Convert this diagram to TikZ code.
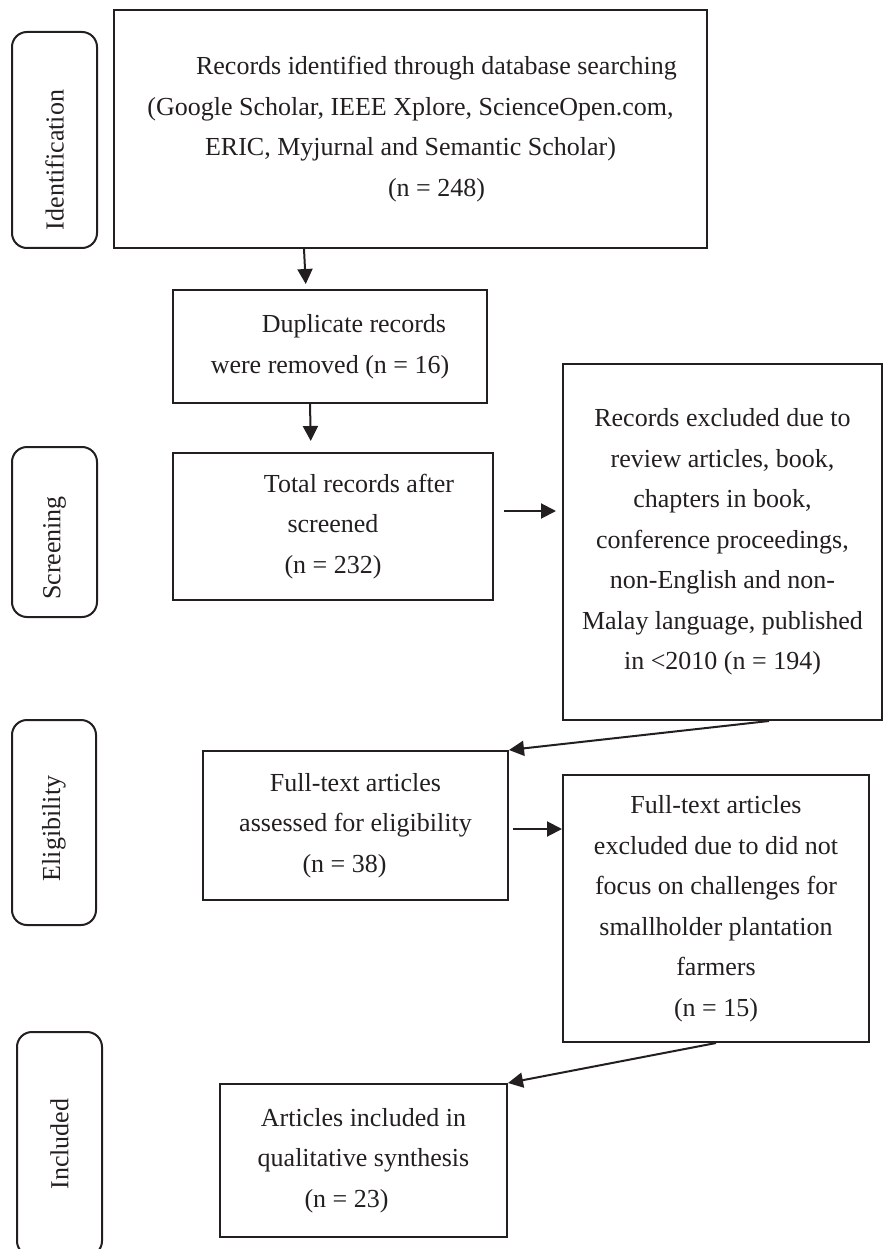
\documentclass[tikz,border=0pt]{standalone}
\usepackage{fontspec}
\setmainfont{Liberation Serif}
\usetikzlibrary{arrows.meta,calc}
\definecolor{ink}{HTML}{231F20}
\begin{document}
\begin{tikzpicture}[x=1pt,y=-1pt,
  box/.style={draw=ink, line width=2pt, inner sep=0pt, align=center, text=ink,
    font=\fontsize{26}{40.5}\selectfont},
  side/.style={draw=ink, line width=2pt, rounded corners=15pt, inner sep=0pt, text=ink,
    font=\fontsize{26}{30}\selectfont},
  arr/.style={draw=ink, line width=2pt, -{Triangle[length=15pt,width=15pt]}},
]
\useasboundingbox (0,0) rectangle (884,1249);
\clip (0,0) rectangle (884,1249);

% side labels
\node[side, minimum width=85pt, minimum height=216pt] (s1) at (54.5,140)
  {\rotatebox{90}{Identification\hspace*{40pt}}};
\node[side, minimum width=85pt, minimum height=170pt] (s2) at (54.5,532)
  {\rotatebox{90}{Screening\hspace*{32pt}}};
\node[side, minimum width=84pt, minimum height=205pt] (s3) at (54,822.5)
  {\rotatebox{90}{Eligibility\hspace*{12pt}}};
\node[side, minimum width=85pt, minimum height=224pt] (s4) at (59.5,1144)
  {\rotatebox{90}{Included}};

% main boxes
\node[box, minimum width=593pt, minimum height=238pt] (b1) at (410.5,129)
  {\hspace*{52pt}Records identified through database searching\\
   (Google Scholar, IEEE Xplore, ScienceOpen.com,\\
   ERIC, Myjurnal and Semantic Scholar)\\
   \hspace*{52pt}(n = 248)};
\node[box, minimum width=314pt, minimum height=113pt] (b2) at (330,346.5)
  {\hspace*{48pt}Duplicate records\\were removed (n = 16)};
\node[box, minimum width=320pt, minimum height=147pt] (b3) at (333,526.5)
  {\hspace*{52pt}Total records after\\screened\\(n = 232)};
\node[box, minimum width=319pt, minimum height=356pt] (b4) at (722.5,542)
  {Records excluded due to\\review articles, book,\\chapters in book,\\conference proceedings,\\non-English and non-\\Malay language, published\\in <2010 (n = 194)};
\node[box, minimum width=305pt, minimum height=149pt] (b5) at (355.5,825.5)
  {Full-text articles\\assessed for eligibility\\(n = 38)\hspace*{22pt}};
\node[box, minimum width=306pt, minimum height=267pt] (b6) at (716,908.5)
  {Full-text articles\\excluded due to did not\\focus on challenges for\\smallholder plantation\\farmers\\(n = 15)};
\node[box, minimum width=287pt, minimum height=153pt] (b7) at (363.5,1160.5)
  {Articles included in\\qualitative synthesis\\(n = 23)\hspace*{34pt}};

% connectors
\draw[arr, shorten >=5pt] ($(b1.south west)+(191,0)$) -- ($(b2.north west)+(134,0)$);
\draw[arr, shorten >=11pt] ($(b2.south west)+(138,0)$) -- ($(b3.north west)+(139,0)$);
\draw[arr, shorten >=6pt] ($(b3.east)+(10,-15.5)$) -- ($(b4.west)+(0,-31)$);
\draw[arr] ($(b4.south west)+(207,0)$) -- (b5.north east);
\draw[arr] ($(b5.east)+(4,3.5)$) -- ($(b6.west)+(0,-79.5)$);
\draw[arr] ($(b6.south west)+(154,0)$) -- (b7.north east);
\end{tikzpicture}
\end{document}
